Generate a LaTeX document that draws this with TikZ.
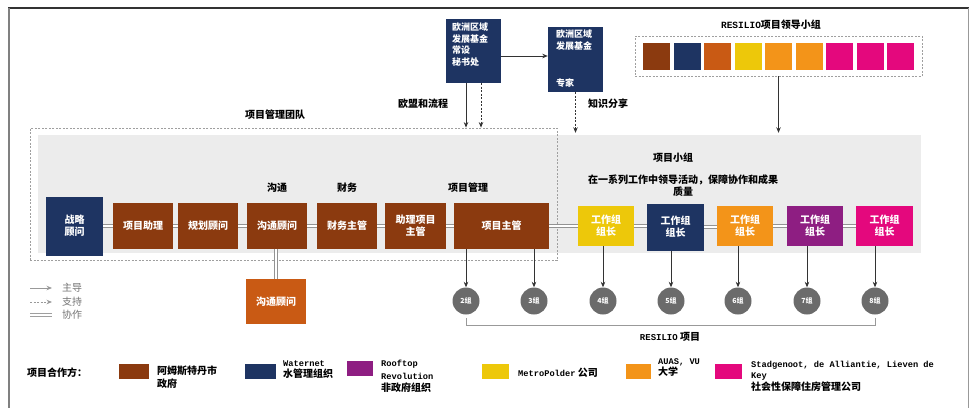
\documentclass[tikz,border=0pt]{standalone}
\usepackage{fontspec}
\setmainfont{Noto Sans CJK SC}
\setmonofont{Liberation Mono}
\usetikzlibrary{arrows.meta,calc}
\definecolor{cbrown}{RGB}{139,58,15}
\definecolor{cnavy}{RGB}{30,52,98}
\definecolor{corb}{RGB}{201,90,20}
\definecolor{cyel}{RGB}{237,200,10}
\definecolor{corg}{RGB}{243,148,25}
\definecolor{cpur}{RGB}{142,30,130}
\definecolor{cmag}{RGB}{228,8,125}
\definecolor{cgreyfill}{RGB}{236,236,236}
\definecolor{ccirc}{RGB}{107,107,107}
\tikzset{
  box/.style={inner sep=0pt, align=center, text=white, font=\bfseries\fontsize{10}{12}\selectfont},
  wtxt/.style={inner sep=0pt, text=white, font=\bfseries\fontsize{9}{11.5}\selectfont},
  lbl/.style={inner sep=0pt, font=\bfseries\fontsize{10}{12}\selectfont},
  legtxt/.style={inner sep=0pt, align=left, font=\bfseries\fontsize{10}{12.5}\selectfont},
  dbl/.style={draw=gray!85, double=white, double distance=2pt, line width=0.9pt},
  arr/.style={-{Stealth[length=5.5pt,width=4.5pt]}, line width=0.8pt, draw=black!80},
  darr/.style={arr, dash pattern=on 2pt off 1.5pt},
  dashbox/.style={draw=gray!75, line width=0.8pt, dash pattern=on 2pt off 1.5pt},
  grp/.style={circle, fill=ccirc, minimum size=27, inner sep=0pt, text=white, font=\bfseries\fontsize{7}{8}\selectfont},
  sw/.style={minimum width=29, minimum height=15, inner sep=0pt},
}
\begin{document}
\begin{tikzpicture}[x=1pt,y=-1pt]
\useasboundingbox (0,0) rectangle (974,408);
% frame
\draw[black!80, line width=1.2pt] (8,8) -- (969,8);
\draw[gray, line width=2.5pt] (9,8) -- (9,408);
\draw[gray!80, line width=0.8pt] (968,8) -- (968,408);

% grey group area and project management team dashed frame
\node[fill=cgreyfill, minimum width=883, minimum height=118, inner sep=0pt] (grey) at (479.5,194) {};
\node[dashbox, minimum width=527, minimum height=132, inner sep=0pt] (pmt) at (293.5,194) {};

% top boxes
\node[fill=cnavy, minimum width=55, minimum height=64, inner sep=0pt] (sec) at (473.5,51) {};
\node[wtxt, anchor=north west, align=left] at (452,23) {欧洲区域\\发展基金\\常设\\秘书处};
\node[fill=cnavy, minimum width=55, minimum height=65, inner sep=0pt] (exp) at (575.5,59.5) {};
\node[wtxt, anchor=north west, align=left] at (556,30) {欧洲区域\\发展基金};
\node[wtxt, anchor=west] at (556,83) {专家};
\draw[arr] ($(sec.east)+(0,5)$) coordinate (t1) -- (t1 -| exp.west);
\draw[arr] ($(sec.south)+(-7.5,0)$) coordinate (t2) -- (t2 |- pmt.north);
\draw[darr] ($(sec.south)+(7.5,0)$) coordinate (t3) -- (t3 |- pmt.north);
\draw[darr] (exp.south) -- ($(exp.south |- grey.north)+(0,-2)$);
\node[lbl] at (423,104) {欧盟和流程};
\node[lbl] at (608,104) {知识分享};

% lead group
\node[lbl] at (771,25) {{\ttfamily\fontsize{9.5}{11}\selectfont RESILIO}项目领导小组};
\node[dashbox, minimum width=287, minimum height=40, inner sep=0pt] (lead) at (778.5,56) {};
\foreach \i/\c in {0/cbrown,1/cnavy,2/corb,3/cyel,4/corg,5/corg,6/cmag,7/cmag,8/cmag}{
  \node[fill=\c, minimum width=27, minimum height=27, inner sep=0pt] (sq\i) at ({656.5+\i*30.5},56.5) {};
}
\draw[arr] (lead.south) -- ($(lead.south |- grey.north)+(0,-2)$);

% labels
\node[lbl] at (275,115) {项目管理团队};
\node[lbl] at (277,188) {沟通};
\node[lbl] at (347,188) {财务};
\node[lbl] at (468,188) {项目管理};
\node[lbl] at (673,158) {项目小组};
\node[lbl, align=center] at (683,186) {在一系列工作中领导活动，保障协作和成果\\质量};

% management row
\node[box, fill=cnavy, minimum width=57, minimum height=59] (zl) at (74.5,226) {战略\\顾问};
\node[box, fill=cbrown, minimum width=60, minimum height=46] (zhuli) at (143,226) {项目助理};
\node[box, fill=cbrown, minimum width=60, minimum height=46] (gh) at (208,226) {规划顾问};
\node[box, fill=cbrown, minimum width=60, minimum height=46] (gt) at (277,226) {沟通顾问};
\node[box, fill=cbrown, minimum width=60, minimum height=46] (cw) at (347,226) {财务主管};
\node[box, fill=cbrown, minimum width=61, minimum height=46] (zpm) at (415.5,226) {助理项目\\主管};
\node[box, fill=cbrown, minimum width=95, minimum height=46] (pm) at (501.5,226) {项目主管};
% work group leaders
\node[box, fill=cyel, minimum width=56, minimum height=40] (w4) at (606,226) {工作组\\组长};
\node[box, fill=cnavy, minimum width=57, minimum height=47] (w5) at (675.5,227) {工作组\\组长};
\node[box, fill=corg, minimum width=56, minimum height=40] (w6) at (745,226) {工作组\\组长};
\node[box, fill=cpur, minimum width=56, minimum height=40] (w7) at (815,226) {工作组\\组长};
\node[box, fill=cmag, minimum width=57, minimum height=40] (w8) at (884.5,226) {工作组\\组长};

\foreach \a/\b in {zl/zhuli,zhuli/gh,gh/gt,gt/cw,cw/zpm,zpm/pm,pm/w4,w4/w5,w5/w6,w6/w7,w7/w8}{
  \draw[dbl] (\a.east) -- (\a.east -| \b.west);
}
\node[box, fill=corb, minimum width=60, minimum height=45] (gt2) at (276,301.5) {沟通顾问};
\draw[dbl] (gt2.north |- gt.south) -- (gt2.north);

% groups
\foreach \n/\x in {2/466,3/534,4/603,5/671,6/738,7/807,8/875}{
  \node[grp] (c\n) at (\x,301) {\n 组};
}
\draw[arr] (c2 |- pm.south) -- (c2.north);
\draw[arr] (c3 |- pm.south) -- (c3.north);
\draw[arr] (c4 |- w4.south) -- (c4.north);
\draw[arr] (c5 |- w5.south) -- (c5.north);
\draw[arr] (c6 |- w6.south) -- (c6.north);
\draw[arr] (c7 |- w7.south) -- (c7.north);
\draw[arr] (c8 |- w8.south) -- (c8.north);
\draw[gray!80, line width=0.8pt] ($(c2.south)+(0,3.5)$) -- ($(c2.south)+(0,10.5)$) -- ($(c8.south)+(0,10.5)$) -- ($(c8.south)+(0,3.5)$);
\node[lbl] at (670,337) {{\ttfamily\fontsize{9}{11}\selectfont RESILIO} 项目};

% legend left
\coordinate (la1) at (30,288); \coordinate (lb1) at (52,288);
\coordinate (la2) at (30,302); \coordinate (lb2) at (52,302);
\coordinate (la3) at (30,315); \coordinate (lb3) at (52,315);
\draw[arr, draw=gray!80] (la1) -- (lb1);
\draw[darr, draw=gray!80] (la2) -- (lb2);
\draw[draw=gray!75, double=white, double distance=1.6pt, line width=0.9pt] (la3) -- (lb3);
\node[anchor=west, inner sep=0pt, text=gray!90!black, font=\fontsize{10}{12}\selectfont] at (62,288) {主导};
\node[anchor=west, inner sep=0pt, text=gray!90!black, font=\fontsize{10}{12}\selectfont] at (62,302) {支持};
\node[anchor=west, inner sep=0pt, text=gray!90!black, font=\fontsize{10}{12}\selectfont] at (62,315) {协作};

% partners legend
\node[legtxt, anchor=west] at (27,373) {项目合作方：};
\node[sw, fill=cbrown, minimum width=30] (s1) at (134,371.5) {};
\node[legtxt, anchor=north west] at (157,366) {阿姆斯特丹市\\政府};
\node[sw, fill=cnavy, minimum width=31] (s2) at (260.5,371.5) {};
\node[legtxt, anchor=north west] at (283,360) {{\ttfamily\fontsize{8.7}{11}\selectfont Waternet}\\[-1.5pt]水管理组织};
\node[sw, fill=cpur, minimum width=26] (s3) at (360,368.5) {};
\node[legtxt, anchor=north west] at (381,360) {{\ttfamily\fontsize{8.7}{11}\selectfont Rooftop}\\{\ttfamily\fontsize{8.7}{11}\selectfont Revolution}\\非政府组织};
\node[sw, fill=cyel, minimum width=27] (s4) at (495.5,371) {};
\node[legtxt, anchor=west] at (518,373) {{\ttfamily\fontsize{8.7}{11}\selectfont MetroPolder} 公司};
\node[sw, fill=corg, minimum width=25] (s5) at (638.5,371) {};
\node[legtxt, anchor=north west] at (658,358) {{\ttfamily\fontsize{8.7}{11}\selectfont AUAS, VU}\\[-1pt]大学};
\node[sw, fill=cmag, minimum width=27] (s6) at (728.5,371) {};
\node[legtxt, anchor=north west] at (751,361) {{\ttfamily\fontsize{8.7}{11}\selectfont Stadgenoot, de Alliantie, Lieven de}\\[-2pt]{\ttfamily\fontsize{8.7}{11}\selectfont Key}\\社会性保障住房管理公司};
\end{tikzpicture}
\end{document}
